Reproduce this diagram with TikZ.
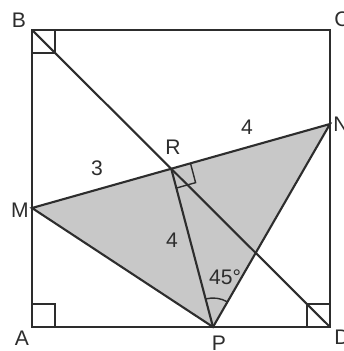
\documentclass[tikz,border=0pt]{standalone}
\usepackage{fontspec}
\setmainfont{Liberation Sans}
\usetikzlibrary{calc,angles}
\definecolor{edge}{RGB}{45,45,45}
\definecolor{trigray}{RGB}{200,200,200}
\tikzset{
  seg/.style={draw=edge,line width=1.2pt},
  rmark/.style={draw=edge,line width=0.8pt},
  lab/.style={font=\fontsize{12}{14}\selectfont,text=edge,inner sep=0pt}
}
\begin{document}
\begin{tikzpicture}[x=0.02cm,y=0.02cm]
  \useasboundingbox (0,0) rectangle (344,351);
  % square and points
  \coordinate (A) at (32,24);
  \coordinate (B) at (32,321);
  \coordinate (C) at (330,321);
  \coordinate (D) at (330,24);
  \coordinate (M) at (32,143);
  \coordinate (N) at (330,227);
  \coordinate (P) at (213,24);
  \coordinate (R) at (intersection of B--D and M--N);
  \fill[trigray] (M)--(N)--(P)--cycle;
  % right angles
  \draw[rmark] ($(A)+(0,23)$) -| ($(A)+(23,0)$);
  \draw[rmark] ($(B)+(0,-23)$) -| ($(B)+(23,0)$);
  \draw[rmark] ($(D)+(0,23)$) -| ($(D)+(-23,0)$);
  \draw[rmark] ($(R)!0.4cm!(N)$) -- ($($(R)!0.4cm!(N)$)+($(R)!0.4cm!(P)$)-(R)$) -- ($(R)!0.4cm!(P)$);
  \pic[draw=edge,line width=0.8pt,angle radius=0.58cm] {angle=N--P--R};
  % lines
  \draw[seg] (A)--(B)--(C)--(D)--cycle;
  \draw[seg] (B)--(D);
  \draw[seg] (M)--(N)--(P)--cycle;
  \draw[seg] (R)--(P);
  % labels
  \foreach \p/\x/\y in {A/22/13,B/19/331,C/342/332,D/342/14,M/20/141,N/341/227,P/219/8,R/173/204}
    \node[lab] (l\p) at (\x,\y) {\p};
  \node[lab] (mr) at (97,183) {3};
  \node[lab] (rn) at (247,224) {4};
  \node[lab] (rp) at (172,111) {4};
  \node[lab] (ang) at (225,74) {45°};
\end{tikzpicture}
\end{document}
